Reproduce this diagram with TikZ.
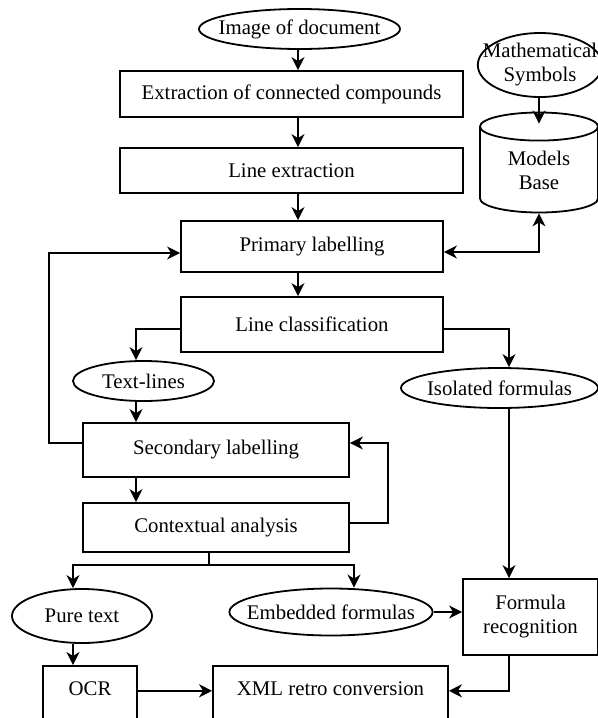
\documentclass[tikz,border=0pt]{standalone}
\usepackage{fontspec}
\setmainfont{Liberation Serif}
\usetikzlibrary{shapes.geometric, arrows.meta, positioning}

\begin{document}
\begin{tikzpicture}[x=0.5pt, y=-0.5pt,
  blk/.style={draw, line width=0.9pt, inner sep=0pt, align=center,
              font=\fontsize{10.4}{12}\selectfont},
  ovl/.style={draw, ellipse, line width=0.9pt, inner sep=0pt, align=center,
              font=\fontsize{10.4}{12}\selectfont},
  db/.style={draw, cylinder, shape border rotate=90, aspect=0.45, line width=0.9pt,
             inner sep=0pt, align=center, font=\fontsize{10.4}{12}\selectfont},
  arr/.style={-{Stealth[length=6.5pt, width=6.5pt, inset=2pt]}, line width=0.9pt},
  darr/.style={{Stealth[length=6.5pt, width=6.5pt, inset=2pt]}-{Stealth[length=6.5pt, width=6.5pt, inset=2pt]}, line width=0.9pt},
]
\useasboundingbox (0,0) rectangle (598,718);

\node[ovl, inner xsep=-4.9pt, minimum width=100.5pt, minimum height=20pt] (img) at (299.5,29) {Image of document};
\node[blk, minimum width=171.5pt, minimum height=23pt] (ecc) at (291.5,94) {Extraction of connected compounds};
\node[blk, minimum width=171.5pt, minimum height=22.5pt] (lext) at (291.5,170.5) {Line extraction};
\node[blk, minimum width=131pt, minimum height=25.5pt] (plab) at (312,246.5) {Primary labelling};
\node[blk, minimum width=131pt, minimum height=27.5pt] (lcls) at (312,324.5) {Line classification};

\node[ovl, inner xsep=-6.6pt, minimum width=62pt, minimum height=32pt] (math) at (540,65) {Mathematical\\Symbols};
\node[db, anchor=shape center, minimum width=59pt, minimum height=50pt] (mbase) at (539,162.5) {Models\\Base};

\node[ovl, minimum width=70.5pt, minimum height=20pt] (txtl) at (143.5,381) {Text-lines};
\node[ovl, inner xsep=-1.5pt, minimum width=98.5pt, minimum height=20pt] (isof) at (499.5,388) {Isolated formulas};
\node[blk, minimum width=133pt, minimum height=27pt] (slab) at (216,450) {Secondary labelling};
\node[blk, minimum width=133pt, minimum height=24.5pt] (ctxa) at (216,527.5) {Contextual analysis};

\node[ovl, minimum width=70pt, minimum height=27pt] (pure) at (82,616) {Pure text};
\node[ovl, inner xsep=-6.1pt, minimum width=101.5pt, minimum height=23.5pt] (embf) at (331,612) {Embedded formulas};
\node[blk, minimum width=67.5pt, minimum height=38pt] (frec) at (530.5,617) {Formula\\recognition};

% bottom boxes run past the lower edge
\node[blk, anchor=north, text height=7pt, text depth=15pt, minimum width=47pt, minimum height=37.5pt] (ocr) at (90,665) {OCR};
\node[blk, anchor=north, text height=7pt, text depth=15pt, minimum width=117.5pt, minimum height=37.5pt] (xml) at (330.5,665) {XML retro conversion};

% columns of the vertical connectors
\coordinate (mcol) at (298,0);
\coordinate (lcol) at (136,0);
\coordinate (rcol) at (509,0);
\coordinate (pcol) at (73,0);
\coordinate (csplit) at (209,565);

\draw[arr] (mcol |- img.south) -- (mcol |- ecc.north);
\draw[arr] (mcol |- ecc.south) -- (mcol |- lext.north);
\draw[arr] (mcol |- lext.south) -- (mcol |- plab.north);
\draw[arr] (mcol |- plab.south) -- (mcol |- lcls.north);

\draw[arr] (math.south -| mbase.shape center) -- ([yshift=-6pt]mbase.north);
\draw[darr] ([yshift=-2.75pt]plab.east) -| (mbase.south);

\draw[arr] ([yshift=3.5pt]slab.west) -- ++(-33,0) |- ([yshift=-3.25pt]plab.west);

\draw[arr] ([yshift=-2.25pt]lcls.west) -| (lcol |- txtl.north);
\draw[arr] ([yshift=-2.25pt]lcls.east) -| (rcol |- isof.north);
\draw[arr] (lcol |- txtl.south) -- (lcol |- slab.north);
\draw[arr] (lcol |- slab.south) -- (lcol |- ctxa.north);
\draw[arr] ([yshift=2.25pt]ctxa.east) -- ++(38,0) |- ([yshift=3.5pt]slab.east);

\draw[arr] (ctxa.south -| csplit) -- (csplit) -| (pcol |- pure.north);
\draw[arr] (csplit) -| ([xshift=11.5pt]embf.north);

\draw[arr] (rcol |- isof.south) -- (rcol |- frec.north);
\draw[arr] (embf.east) -- (embf.east -| frec.west);
\draw[arr] (pcol |- pure.south) -- (pcol |- ocr.north);
\draw[arr] (ocr.mid east) -- (xml.mid west);
\draw[arr] (rcol |- frec.south) |- (xml.mid east);
\end{tikzpicture}
\end{document}
